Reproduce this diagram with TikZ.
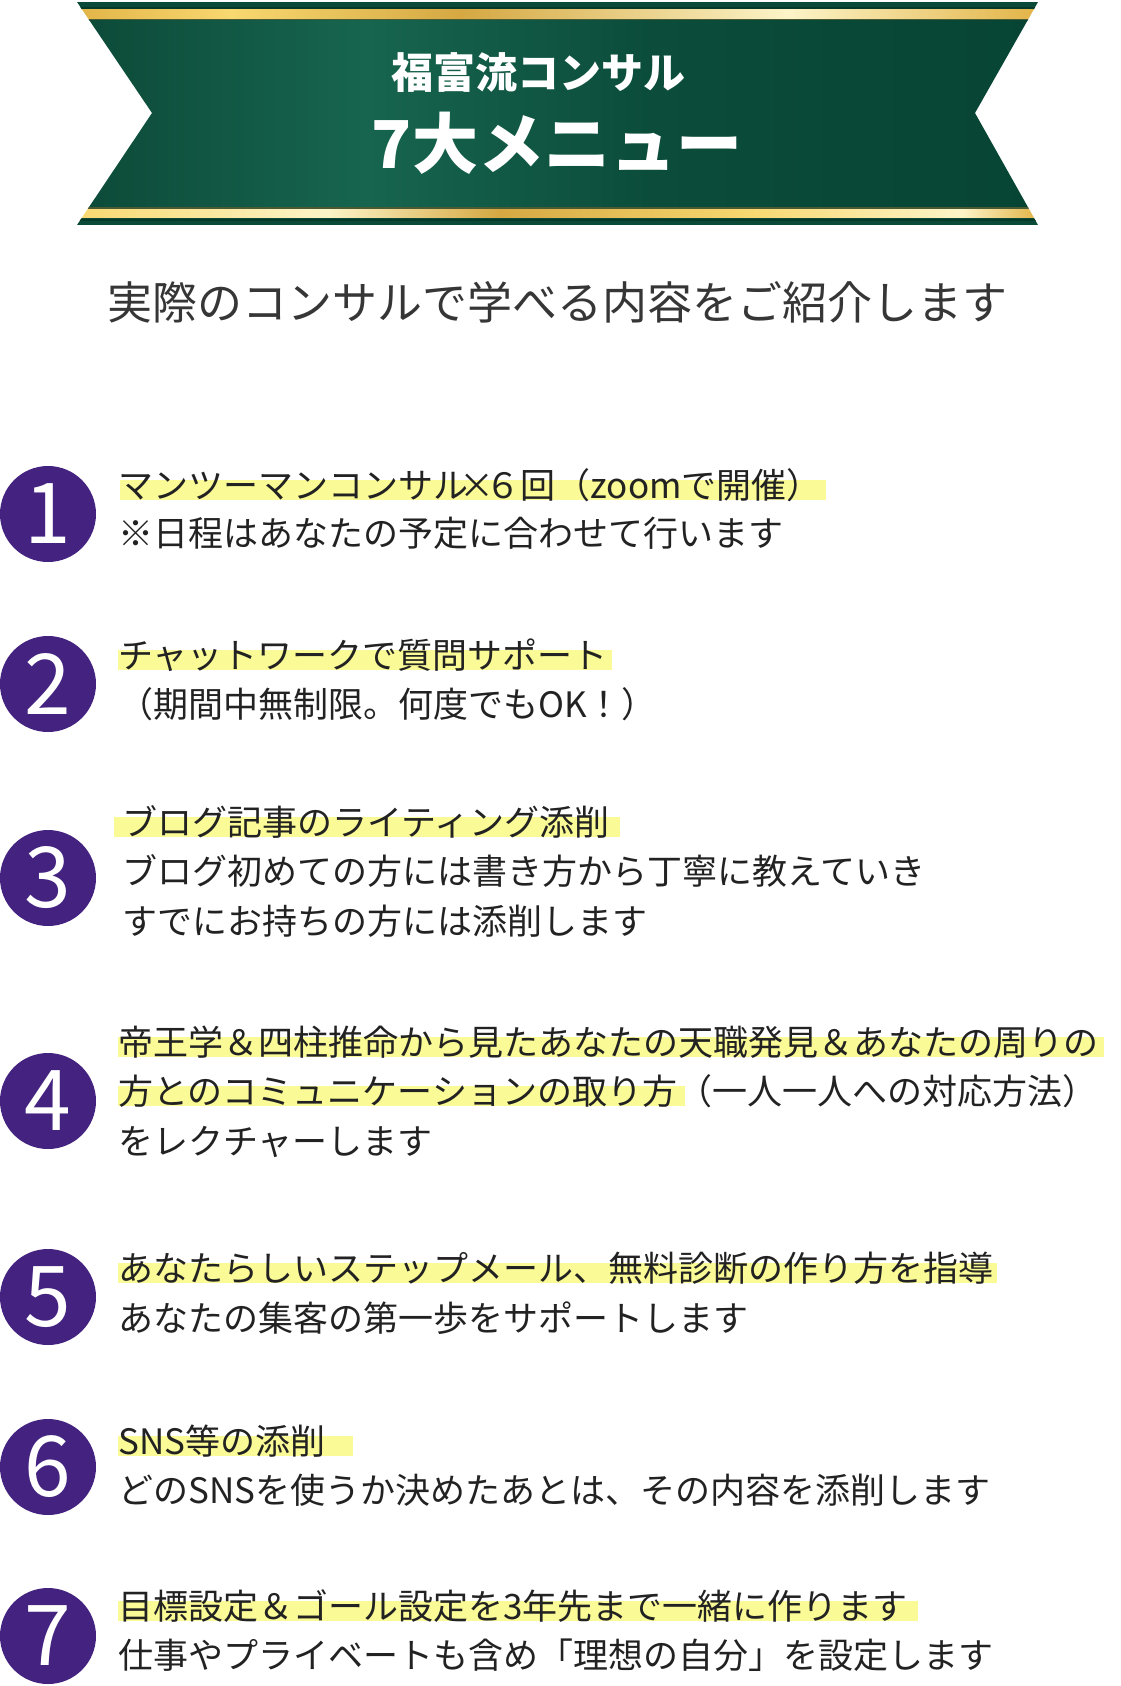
\documentclass[tikz,border=0pt]{standalone}
\usepackage{fontspec}
\setmainfont{Noto Sans CJK JP}
\usetikzlibrary{positioning,calc,backgrounds}

\definecolor{bngA}{HTML}{0C4A38}
\definecolor{bngB}{HTML}{17654F}
\definecolor{bngC}{HTML}{0B4C3A}
\definecolor{bngD}{HTML}{074434}
\definecolor{goldA}{HTML}{E2B447}
\definecolor{goldB}{HTML}{F8D870}
\definecolor{goldC}{HTML}{D5A842}
\definecolor{goldD}{HTML}{FCF4C8}
\definecolor{bandgreen}{HTML}{0B4A38}
\definecolor{banddark}{HTML}{05392A}
\definecolor{bandolive}{HTML}{4A5B33}
\definecolor{menupurple}{RGB}{67,34,128}
\definecolor{markeryellow}{RGB}{250,250,150}
\definecolor{inkgray}{HTML}{222222}
\definecolor{subgray}{HTML}{363636}

\pgfdeclarehorizontalshading{bannergreen}{100bp}{color(0bp)=(bngA); color(25bp)=(bngA); color(40bp)=(bngB); color(55bp)=(bngC); color(75bp)=(bngD); color(100bp)=(bngD)}
\pgfdeclarehorizontalshading{goldtop}{100bp}{color(0bp)=(goldA); color(25bp)=(goldA); color(33bp)=(goldB); color(45bp)=(goldC); color(62bp)=(goldD); color(75bp)=(goldA); color(100bp)=(goldA)}
\pgfdeclarehorizontalshading{goldbottom}{100bp}{color(0bp)=(goldA); color(25bp)=(goldB); color(38bp)=(goldD); color(47bp)=(goldC); color(60bp)=(goldB); color(71bp)=(goldD); color(75bp)=(goldA); color(100bp)=(goldA)}

\begin{document}
\begin{tikzpicture}[x=1pt,y=-1pt,
    numcircle/.style={circle,fill=menupurple,minimum size=96pt,inner sep=0pt,text=white,font=\fontsize{84}{84}\selectfont},
    txt/.style={anchor=base west,inner sep=0pt,text=inkgray,font=\fontsize{35}{42}\selectfont},
    marker/.style={fill=markeryellow}]
    \useasboundingbox (0,0) rectangle (1120,1686);
    % banner
    \begin{scope}
        \clip (77,2) -- (1038,2) -- (975,113) -- (1038,225) -- (77,225) -- (152,113) -- cycle;
        \fill[bandgreen] (77,2) rectangle (1038,10);
        \fill[banddark] (77,7) rectangle (1038,9);
        \shade[shading=goldtop] (77,10) rectangle (1038,19);
        \fill[bandolive] (77,19) rectangle (1038,21);
        \shade[shading=bannergreen] (77,21) rectangle (1038,207);
        \fill[bandolive] (77,207) rectangle (1038,209);
        \shade[shading=goldbottom] (77,209) rectangle (1038,218);
        \fill[bandgreen] (77,218) rectangle (1038,225);
        \fill[banddark] (77,219) rectangle (1038,221);
    \end{scope}
    \node[text=white,font=\bfseries\fontsize{42}{42}\selectfont] (title) at (538,73) {福富流コンサル};
    \node[text=white,font=\bfseries\fontsize{66}{66}\selectfont] (menu) at (557,143) {7大メニュー};
    \node[text=subgray,font=\fontsize{45}{45}\selectfont] (intro) at (557,302) {実際のコンサルで学べる内容をご紹介します};

    % numbers
    \foreach \i/\y in {1/514,2/684,3/878,4/1101,5/1297,6/1467,7/1636}
        \node[numcircle] (n\i) at (48,\y) {\i};

    % menu texts
    \node[txt] (t1a) at (118,498) {マンツーマンコンサル\makebox[0.5em]{×}６回（zoomで開催）};
    \node[txt] (t1b) at (118,546) {※日程はあなたの予定に合わせて行います};
    \node[txt] (t2a) at (118,668) {チャットワークで質問サポート};
    \node[txt] (t2b) at (118,717) {（期間中無制限。何度でもOK！）};
    \node[txt] (t3a) at (122,835) {ブログ記事のライティング添削};
    \node[txt] (t3b) at (122,884) {ブログ初めての方には書き方から丁寧に教えていき};
    \node[txt] (t3c) at (122,934) {すでにお持ちの方には添削します};
    \node[txt] (t4a) at (118,1055) {帝王学＆四柱推命から見たあなたの天職発見＆あなたの周りの};
    \node[txt] (t4b) at (118,1104) {方とのコミュニケーションの取り方};
    \node[txt] (t4c) at (t4b.base east) {（一人一人への対応方法）};
    \node[txt] (t4d) at (118,1154) {をレクチャーします};
    \node[txt] (t5a) at (118,1281) {あなたらしいステップメール、無料診断の作り方を指導};
    \node[txt] (t5b) at (118,1331) {あなたの集客の第一歩をサポートします};
    \node[txt] (t6a) at (118,1454) {SNS等の添削};
    \node[txt] (t6b) at (118,1503) {どのSNSを使うか決めたあとは、その内容を添削します};
    \node[txt] (t7a) at (118,1619) {目標設定＆ゴール設定を3年先まで一緒に作ります};
    \node[txt] (t7b) at (118,1668) {仕事やプライベートも含め「理想の自分」を設定します};

    % marker lines
    \begin{scope}[on background layer]
        \foreach \t/\s/\e in {t1a/2/4,t2a/0/4,t3a/-8/10,t4a/0/6,t4b/0/8,t5a/0/4,t6a/0/28,t7a/0/10}
            \fill[marker] ($(\t.base west)+(\s,2)$) rectangle ($(\t.base east)+(\e,-18)$);
    \end{scope}
\end{tikzpicture}
\end{document}
